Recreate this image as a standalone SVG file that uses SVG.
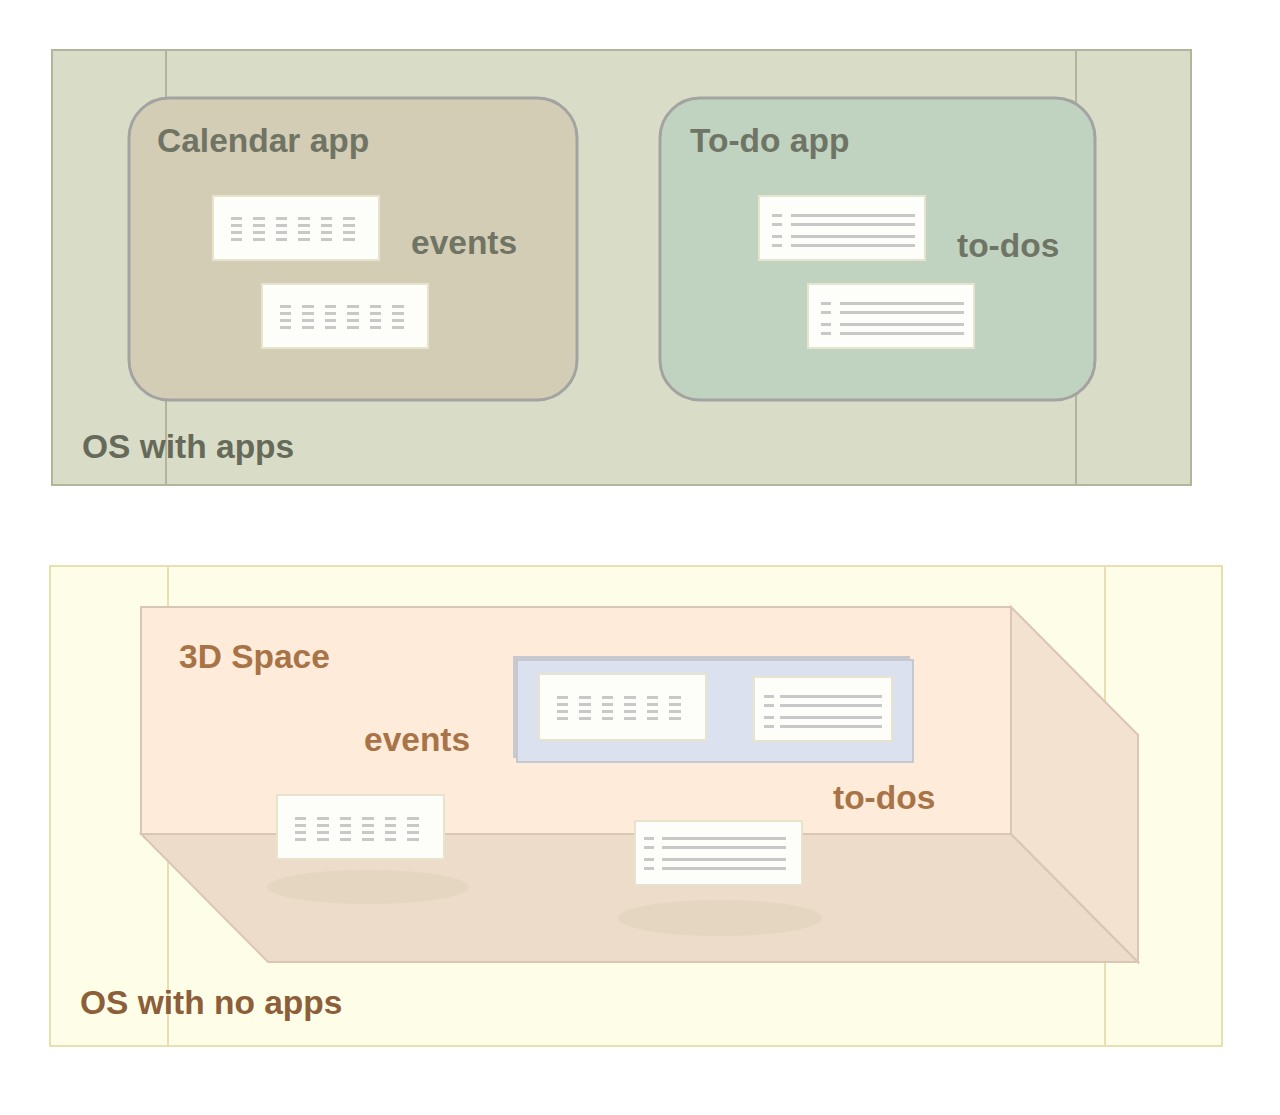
<svg xmlns="http://www.w3.org/2000/svg" width="1280" height="1115" viewBox="0 0 1280 1115">
<style>
  .lbl { font-family: "Liberation Sans", Arial, Helvetica, sans-serif; font-weight: bold; font-size: 33.5px; }
  .top { fill: #6f7464; }
  .topos { fill: #666a5a; }
  .bot { fill: #a87447; }
  .botos { fill: #8c5e3a; }
  .card { fill: #fdfef9; stroke: #e6e4cc; stroke-width: 2; }
  .dash { fill: #c8c8c8; }
  .shadow { fill: #e3d3be; opacity: 0.7; }
</style>
<defs>
  <g id="evpat">
    <rect class="dash" x="18" y="21" width="11" height="3"/><rect class="dash" x="18" y="28" width="11" height="3"/><rect class="dash" x="18" y="35" width="11" height="3"/><rect class="dash" x="18" y="42" width="11" height="3"/>
    <rect class="dash" x="40" y="21" width="12" height="3"/><rect class="dash" x="40" y="28" width="12" height="3"/><rect class="dash" x="40" y="35" width="12" height="3"/><rect class="dash" x="40" y="42" width="12" height="3"/>
    <rect class="dash" x="63" y="21" width="11" height="3"/><rect class="dash" x="63" y="28" width="11" height="3"/><rect class="dash" x="63" y="35" width="11" height="3"/><rect class="dash" x="63" y="42" width="11" height="3"/>
    <rect class="dash" x="85" y="21" width="12" height="3"/><rect class="dash" x="85" y="28" width="12" height="3"/><rect class="dash" x="85" y="35" width="12" height="3"/><rect class="dash" x="85" y="42" width="12" height="3"/>
    <rect class="dash" x="108" y="21" width="11" height="3"/><rect class="dash" x="108" y="28" width="11" height="3"/><rect class="dash" x="108" y="35" width="11" height="3"/><rect class="dash" x="108" y="42" width="11" height="3"/>
    <rect class="dash" x="130" y="21" width="12" height="3"/><rect class="dash" x="130" y="28" width="12" height="3"/><rect class="dash" x="130" y="35" width="12" height="3"/><rect class="dash" x="130" y="42" width="12" height="3"/>
  </g>
  <g id="evcard">
    <rect class="card" x="0" y="0" width="166" height="64"/>
    <use href="#evpat"/>
  </g>
  <g id="tdcard">
    <rect class="card" x="0" y="0" width="166" height="64"/>
    <rect class="dash" x="13" y="18" width="10" height="3"/><rect class="dash" x="32" y="18" width="124" height="3"/>
    <rect class="dash" x="13" y="27" width="10" height="3"/><rect class="dash" x="32" y="27" width="124" height="3"/>
    <rect class="dash" x="13" y="39" width="10" height="3"/><rect class="dash" x="32" y="39" width="124" height="3"/>
    <rect class="dash" x="13" y="48" width="10" height="3"/><rect class="dash" x="32" y="48" width="124" height="3"/>
  </g>
  <g id="tdcard2">
    <rect class="card" x="0" y="0" width="138" height="64"/>
    <rect class="dash" x="10" y="18" width="10" height="3"/><rect class="dash" x="26" y="18" width="102" height="3"/>
    <rect class="dash" x="10" y="27" width="10" height="3"/><rect class="dash" x="26" y="27" width="102" height="3"/>
    <rect class="dash" x="10" y="39" width="10" height="3"/><rect class="dash" x="26" y="39" width="102" height="3"/>
    <rect class="dash" x="10" y="48" width="10" height="3"/><rect class="dash" x="26" y="48" width="102" height="3"/>
  </g>
</defs>

<!-- Top: OS with apps -->
<g id="os-apps">
  <rect x="52" y="50" width="1139" height="435" fill="#d9ddc7" stroke="#b1b59c" stroke-width="2"/>
  <line x1="166" y1="50" x2="166" y2="485" stroke="#b1b59c" stroke-width="2"/>
  <line x1="1076" y1="50" x2="1076" y2="485" stroke="#b1b59c" stroke-width="2"/>
</g>
<g id="calendar-app">
  <rect x="129" y="98" width="448" height="302" rx="40" fill="#d4cdb5" stroke="#a3a3a1" stroke-width="3"/>
  <text class="lbl top" x="157" y="152">Calendar app</text>
  <use href="#evcard" x="213" y="196"/>
  <use href="#evcard" x="262" y="284"/>
  <text class="lbl top" x="411" y="254">events</text>
</g>
<g id="todo-app">
  <rect x="660" y="98" width="435" height="302" rx="40" fill="#c0d2c0" stroke="#a3a3a1" stroke-width="3"/>
  <text class="lbl top" x="690" y="152">To-do app</text>
  <use href="#tdcard" x="759" y="196"/>
  <use href="#tdcard" x="808" y="284"/>
  <text class="lbl top" x="957" y="257">to-dos</text>
</g>
<text class="lbl topos" x="82" y="458">OS with apps</text>

<!-- Bottom: OS with no apps -->
<g id="os-no-apps">
  <rect x="50" y="566" width="1172" height="480" fill="#fefee8" stroke="#e8e0b0" stroke-width="2"/>
  <line x1="168" y1="566" x2="168" y2="1046" stroke="#e8e0b0" stroke-width="2"/>
  <line x1="1105" y1="566" x2="1105" y2="1046" stroke="#e8e0b0" stroke-width="2"/>
</g>
<g id="space-3d">
  <polygon points="141,834 1011,834 1138,962 268,962" fill="#ecdcc9" stroke="#d9c6b5" stroke-width="2"/>
  <polygon points="1011,607 1138,735 1138,962 1011,834" fill="#f3e2d0" stroke="#d9c6b5" stroke-width="2"/>
  <rect x="141" y="607" width="870" height="227" fill="#feebda" stroke="#d9c6b5" stroke-width="2"/>
  <text class="lbl bot" x="179" y="668">3D Space</text>
</g>
<g id="panel">
  <rect x="513" y="656" width="397" height="102" fill="#c8c9cf"/>
  <rect x="517" y="660" width="396" height="102" fill="#dce1f0" stroke="#c5c8d0" stroke-width="2"/>
  <g transform="translate(539,674)">
    <rect class="card" x="0" y="0" width="167" height="66"/>
    <use href="#evpat" y="1"/>
  </g>
  <use href="#tdcard2" x="754" y="677"/>
</g>
<g id="floor-events">
  <ellipse class="shadow" cx="368" cy="887" rx="101" ry="17"/>
  <rect class="card" x="277" y="795" width="167" height="64"/>
  <use href="#evpat" x="277" y="796"/>
</g>
<g id="floor-todos">
  <ellipse class="shadow" cx="720" cy="918" rx="102" ry="18"/>
  <g transform="translate(635,821)">
    <rect class="card" x="0" y="0" width="167" height="64"/>
    <rect class="dash" x="9" y="16" width="10" height="3"/><rect class="dash" x="27" y="16" width="124" height="3"/>
    <rect class="dash" x="9" y="25" width="10" height="3"/><rect class="dash" x="27" y="25" width="124" height="3"/>
    <rect class="dash" x="9" y="37" width="10" height="3"/><rect class="dash" x="27" y="37" width="124" height="3"/>
    <rect class="dash" x="9" y="46" width="10" height="3"/><rect class="dash" x="27" y="46" width="124" height="3"/>
  </g>
</g>
<text class="lbl bot" x="364" y="751">events</text>
<text class="lbl bot" x="833" y="809">to-dos</text>
<text class="lbl botos" x="80" y="1014">OS with no apps</text>
</svg>
